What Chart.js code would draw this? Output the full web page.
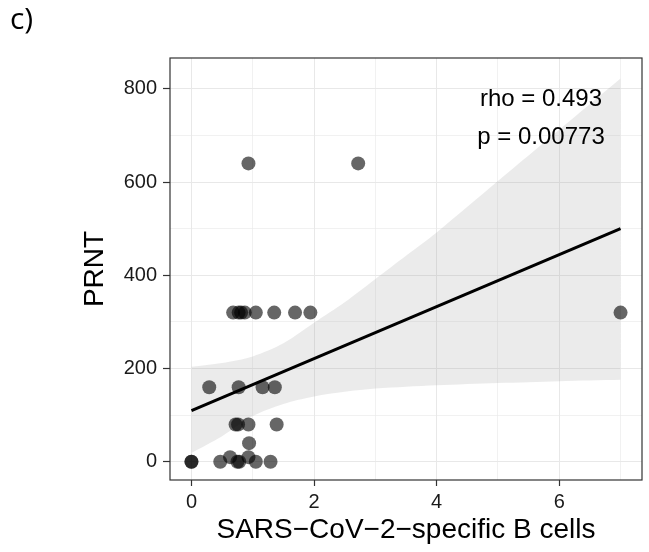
<!DOCTYPE html>
<html>
<head>
<meta charset="utf-8">
<script src="https://cdn.jsdelivr.net/npm/chart.js@4/dist/chart.umd.min.js"></script>
<style>
  body { margin: 0; background: #fff; }
  #wrap { position: relative; width: 649px; height: 552px; }
  #panel-label { position: absolute; left: 10px; top: -3px; font: 30px "Open Sans", sans-serif; color: #000; }
</style>
</head>
<body>
<div id="wrap">
  <canvas id="prnt-vs-bcells" width="649" height="552"></canvas>
  <div id="panel-label">c)</div>
</div>
<script>
// B cells (x) vs PRNT titre (y)
var bCells = [0.68, 0.77, 0.81, 0.87, 1.05, 1.35, 1.69, 1.94, 7.0,
              0.93, 2.72,
              0.29, 0.77, 1.16, 1.36,
              0.72, 0.76, 0.93, 1.39,
              0.94,
              0.63, 0.93,
              0, 0, 0.47, 0.75, 0.78, 1.05, 1.29];
var prnt   = [320, 320, 320, 320, 320, 320, 320, 320, 320,
              640, 640,
              160, 160, 160, 160,
              80, 80, 80, 80,
              40,
              10, 10,
              0, 0, 0, 0, 0, 0, 0];

// fitted line ends and confidence band
var fitX = [0, 7.0];
var fitY = [110, 500];
var bandX     = [0,   0.5, 1,   1.5, 2,   2.5, 3,   3.5, 4,   5,   6,   7.0];
var bandUpper = [204, 212, 226, 254, 298, 342, 392, 442, 492, 602, 712, 822];
var bandLower = [19,  55,  98,  124, 140, 150, 157, 161, 164, 169, 173, 176];

var xTicks = [0, 1, 2, 3, 4, 5, 6, 7];
var yTicks = [0, 100, 200, 300, 400, 500, 600, 700, 800];
var statLines = ['rho = 0.493', 'p = 0.00773'];

function toPoints(xs, ys) {
    return xs.map(function (x, i) { return { x: x, y: ys[i] }; });
}

var panelBox = {
    id: 'panelBox',
    afterDraw: function (chart) {
        var a = chart.chartArea, ctx = chart.ctx;
        ctx.save();
        ctx.strokeStyle = '#333';
        ctx.lineWidth = 1.2;
        ctx.strokeRect(a.left, a.top, a.right - a.left, a.bottom - a.top);
        ctx.fillStyle = '#000';
        ctx.font = '24px "Liberation Sans", Arial, sans-serif';
        ctx.textAlign = 'center';
        ctx.fillText(statLines[0], 541, 106);
        ctx.fillText(statLines[1], 541, 144);
        ctx.restore();
    }
};

var isMajorX = function (v) { return v % 2 === 0; };
var isMajorY = function (v) { return v % 200 === 0; };

var ctx = document.getElementById('prnt-vs-bcells').getContext('2d');
var chart = new Chart(ctx, {
    type: 'scatter',
    data: {
        datasets: [
            {
                type: 'line',
                label: 'fit',
                data: toPoints(fitX, fitY),
                borderColor: '#000',
                borderWidth: 3,
                pointRadius: 0,
                fill: false,
                order: 0
            },
            {
                label: 'samples',
                data: toPoints(bCells, prnt),
                backgroundColor: 'rgba(0,0,0,0.6)',
                borderWidth: 0,
                pointRadius: 7,
                pointHoverRadius: 7,
                order: 1
            },
            {
                type: 'line',
                label: 'upper',
                data: toPoints(bandX, bandUpper),
                borderWidth: 0,
                pointRadius: 0,
                tension: 0.3,
                fill: '+1',
                backgroundColor: 'rgba(153,153,153,0.2)',
                order: 2
            },
            {
                type: 'line',
                label: 'lower',
                data: toPoints(bandX, bandLower),
                borderWidth: 0,
                pointRadius: 0,
                tension: 0.3,
                fill: false,
                order: 3
            }
        ]
    },
    options: {
        responsive: false,
        animation: false,
        layout: { padding: { left: 0, right: 3, top: 58, bottom: 0 } },
        plugins: { legend: { display: false }, tooltip: { enabled: false } },
        scales: {
            x: {
                type: 'linear',
                min: -0.35,
                max: 7.35,
                afterBuildTicks: function (scale) {
                    scale.ticks = xTicks.map(function (v) { return { value: v }; });
                },
                afterFit: function (scale) { scale.height = 72; },
                ticks: {
                    color: '#1a1a1a',
                    font: { size: 20, family: '"Liberation Sans", Arial, sans-serif' },
                    padding: 4,
                    autoSkip: false,
                    maxRotation: 0,
                    callback: function (v) { return isMajorX(v) ? String(v) : ''; }
                },
                grid: {
                    color: '#e8e8e8',
                    lineWidth: function (c) { return isMajorX(c.tick.value) ? 1 : 0.6; },
                    tickLength: 6,
                    tickColor: function (c) { return isMajorX(c.tick.value) ? '#333' : 'rgba(0,0,0,0)'; },
                    tickWidth: 1.2
                },
                border: { display: false },
                title: {
                    display: true,
                    text: 'SARS\u2212CoV\u22122\u2212specific B cells',
                    color: '#000',
                    font: { size: 28, family: '"Liberation Sans", Arial, sans-serif' },
                    padding: { top: 0, bottom: 5 }
                }
            },
            y: {
                type: 'linear',
                min: -39,
                max: 866,
                afterBuildTicks: function (scale) {
                    scale.ticks = yTicks.map(function (v) { return { value: v }; });
                },
                afterFit: function (scale) { scale.width = 170; },
                ticks: {
                    color: '#1a1a1a',
                    font: { size: 20, family: '"Liberation Sans", Arial, sans-serif' },
                    padding: 6,
                    autoSkip: false,
                    callback: function (v) { return isMajorY(v) ? String(v) : ''; }
                },
                grid: {
                    color: '#e8e8e8',
                    lineWidth: function (c) { return isMajorY(c.tick.value) ? 1 : 0.6; },
                    tickLength: 7,
                    tickColor: function (c) { return isMajorY(c.tick.value) ? '#333' : 'rgba(0,0,0,0)'; },
                    tickWidth: 1.2
                },
                border: { display: false },
                title: {
                    display: true,
                    text: 'PRNT',
                    color: '#000',
                    font: { size: 28, family: '"Liberation Sans", Arial, sans-serif' },
                    padding: { top: 78, bottom: 0 }
                }
            }
        }
    },
    plugins: [panelBox]
});
</script>
</body>
</html>
